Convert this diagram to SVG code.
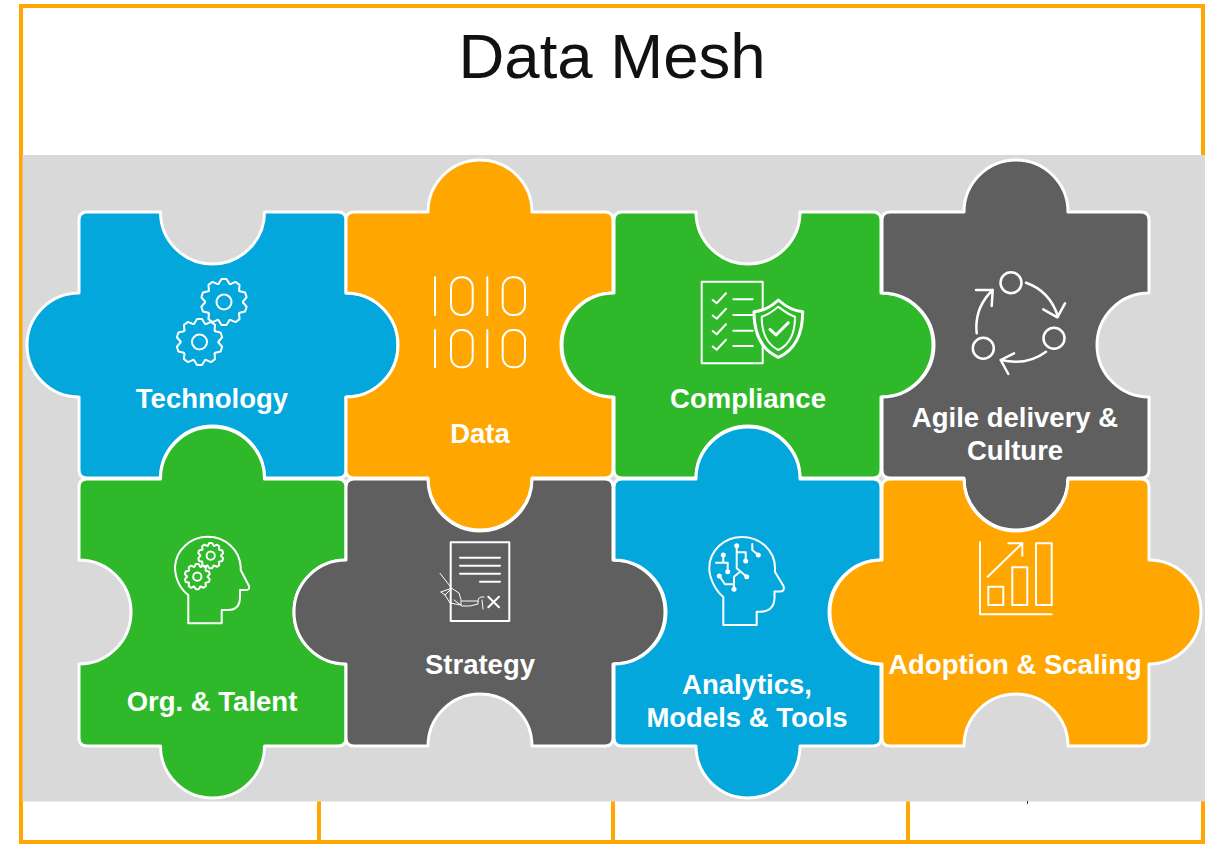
<svg xmlns="http://www.w3.org/2000/svg" xmlns:xlink="http://www.w3.org/1999/xlink" width="1212" height="844" viewBox="0 0 1212 844">
<style>
.piece{stroke:#fff;stroke-width:3;stroke-linejoin:round}
.blue{fill:#03a7dc}.orange{fill:#ffa600}.green{fill:#2fb92a}.grey{fill:#5f5f5f}
.ic{fill:none;stroke:#fff;stroke-width:2;stroke-linejoin:round;stroke-linecap:round}
.thin{stroke-width:1}
.cyc{stroke-width:2.500}
.lab{font-family:"Liberation Sans",Arial,sans-serif;font-weight:700;font-size:27.500px;fill:#fff;text-anchor:middle}
.frame{fill:none;stroke:#ffa600;stroke-width:4}
</style>
<defs>
<g id="tooth"><path d="M-5.4,-18.2 L-2.5,-23 H2.5 L5.4,-18.2 L6.34,-17.9"/></g>
<g id="gear">
<use href="#tooth"/><use href="#tooth" transform="rotate(36)"/><use href="#tooth" transform="rotate(72)"/><use href="#tooth" transform="rotate(108)"/><use href="#tooth" transform="rotate(144)"/><use href="#tooth" transform="rotate(180)"/><use href="#tooth" transform="rotate(216)"/><use href="#tooth" transform="rotate(252)"/><use href="#tooth" transform="rotate(288)"/><use href="#tooth" transform="rotate(324)"/>
<circle r="7.5"/>
</g>
</defs>
<rect width="1212" height="844" fill="#fff"/>
<g id="frame">
<rect class="frame" x="21" y="6" width="1182" height="836"/>
<path class="frame" d="M319,800V842M613,800V842M908,800V842"/>
</g>
<rect id="panel" x="22.500" y="155" width="1182.500" height="646.500" fill="#d9d9d9"/>
<rect x="1027" y="801" width="1" height="3" fill="#333"/>
<text x="612" y="78" text-anchor="middle" font-family="&quot;Liberation Sans&quot;,Arial,sans-serif" font-size="63.500" fill="#111">Data Mesh</text>

<g id="technology">
<path class="piece blue" d="M87,212H160.500A52,52 0 0 0 264.500,212H338Q346,212 346,220V293A52,52 0 0 1 346,397V470Q346,478 338,478H264.500A52,52 0 0 0 160.500,478H87Q79,478 79,470V397A52,52 0 0 1 79,293V220Q79,212 87,212Z"/>
<use class="ic" href="#gear" transform="translate(224,302)"/>
<use class="ic" href="#gear" transform="translate(199.500,342)"/>
<text class="lab" x="212" y="408">Technology</text>
</g>
<g id="data">
<path class="piece orange" d="M354,212H428A52,52 0 0 1 532,212H605Q613,212 613,220V293A52,52 0 0 0 613,397V470Q613,478 605,478H532A52,52 0 0 1 428,478H354Q346,478 346,470V397A52,52 0 0 0 346,293V220Q346,212 354,212Z"/>
<path class="ic" d="M435,277.300V315M487.300,277.300V315M435,330V367.300M487.300,330V367.300"/>
<rect class="ic" x="451" y="277.300" width="21.700" height="37.700" rx="10"/>
<rect class="ic" x="502.700" y="277.300" width="22.300" height="37.700" rx="10"/>
<rect class="ic" x="451" y="330" width="21.700" height="37.300" rx="10"/>
<rect class="ic" x="502.700" y="330" width="22.300" height="37.300" rx="10"/>
<text class="lab" x="480" y="443">Data</text>
</g>
<g id="compliance">
<path class="piece green" d="M622,212H696A52,52 0 0 0 800,212H873Q881,212 881,220V293A52,52 0 0 1 881,397V470Q881,478 873,478H800A52,52 0 0 0 696,478H622Q614,478 614,470V397A52,52 0 0 1 614,293V220Q614,212 622,212Z"/>
<rect class="ic" x="701.700" y="281.700" width="61" height="81.600"/>
<path class="ic" d="M712.700,300L716.700,303.300L726,293.300M712.700,315.500L716.700,318.800L726,308.800M712.700,331L716.700,334.300L726,324.300M712.700,346.500L716.700,349.800L726,339.800M733.300,299.300H752.700M733.300,315H752.700M733.300,330.700H752.700M733.300,346H752.700"/>
<path class="ic" style="fill:#2fb92a;stroke-width:3" d="M778.300,300C771,307 763,311 754,311.700C754,332 760,349 778.300,357.300C797,349 802.700,332 802.700,311.700C794,311 786,307 778.300,300Z"/>
<path class="ic" d="M778.300,306.700C773,311 768,315 761.700,316.700C761.700,331 766,344 778.300,350C791,344 795,331 795,316.700C789,315 784,311 778.300,306.700Z"/>
<path class="ic" style="stroke-width:3" d="M770,329.300L776,335L788.300,322.700"/>
<text class="lab" x="748" y="408">Compliance</text>
</g>
<g id="agile">
<path class="piece grey" d="M890,212H964A52,52 0 0 1 1068,212H1141Q1149,212 1149,220V293A52,52 0 0 0 1149,397V470Q1149,478 1141,478H1068A52,52 0 0 1 964,478H890Q882,478 882,470V397A52,52 0 0 0 882,293V220Q882,212 890,212Z"/>
<circle class="ic cyc" cx="1011" cy="282.700" r="10.500"/>
<circle class="ic cyc" cx="1054" cy="338.300" r="10.500"/>
<circle class="ic cyc" cx="983.300" cy="348.300" r="10.500"/>
<path class="ic cyc" d="M1026,282.700Q1050,291 1058,316.700M1043.300,309.300L1057.300,317.300L1065,303.300M1046,351.700Q1027,366 1000.700,360M1014,353.300L1000.700,360L1008.300,374M976.700,333.300Q974,308 992.700,290M976,290H992.700L991.700,306"/>
<text class="lab" x="1015" y="427">Agile delivery &amp;</text>
<text class="lab" x="1015" y="460">Culture</text>
</g>
<g id="org">
<path class="piece green" d="M87,479H160.500A52,52 0 0 1 264.500,479H338Q346,479 346,487V560A52,52 0 0 0 346,664V738Q346,746 338,746H264.500A52,52 0 0 1 160.500,746H87Q79,746 79,738V664A52,52 0 0 0 79,560V487Q79,479 87,479Z"/>
<path class="ic" d="M188.300,623.300V595C180,589 175,578 175,567A32.900,32 0 0 1 240.700,567V570L249,586Q250,590 246,590H240V597Q240,610 228,610H221.700V623.300Z"/>
<use class="ic" style="stroke-width:3.600" href="#gear" transform="translate(210.700,555.700) scale(.55)"/>
<use class="ic" style="stroke-width:3.600" href="#gear" transform="translate(197.300,576.700) scale(.55)"/>
<text class="lab" x="212" y="711">Org. &amp; Talent</text>
</g>
<g id="strategy">
<path class="piece grey" d="M354,479H428A52,52 0 0 0 532,479H605Q613,479 613,487V560A52,52 0 0 1 613,664V738Q613,746 605,746H532A52,52 0 0 0 428,746H354Q346,746 346,738V664A52,52 0 0 1 346,560V487Q346,479 354,479Z"/>
<rect class="ic" x="450.700" y="542.300" width="58.600" height="78.700"/>
<path class="ic" d="M460,557.700H500M460,565.700H500M460,573.700H500M480,581.700H500M488.300,596.700L499,607.300M499,596.700L488.300,607.300"/>
<path class="ic thin" d="M440,573.300L451.700,588.300L440.700,592L445,595L451.700,588.300L459,593Q462,600 461,605L450,603L445,595M454,600L462,606H470L478,604V601H462M478,601Q478,596 484,597M482,600L483,609"/>
<text class="lab" x="480" y="674">Strategy</text>
</g>
<g id="analytics">
<path class="piece blue" d="M622,479H696A52,52 0 0 1 800,479H873Q881,479 881,487V560A52,52 0 0 0 881,664V738Q881,746 873,746H800A52,52 0 0 1 696,746H622Q614,746 614,738V664A52,52 0 0 0 614,560V487Q614,479 622,479Z"/>
<path class="ic" d="M723.300,625V597C715,590 709.300,578 709.300,568A32.800,31 0 0 1 775,568V572L783.500,586Q785,591.500 780,591.500H774.500V598Q774,611.700 760,611.700H756.700V625Z"/>
<path class="ic" d="M723.300,555V562.700M716,562.700H727.700V571.700M736.700,545.700V568.300L746.700,576.700M736.700,552.300H745.700V561M740,571.700L734,576.700V589.300M719.300,576L725,584.300H734M752.300,544V550L758.300,555"/>
<g fill="#fff"><circle cx="723.300" cy="555" r="2.500"/><circle cx="736.700" cy="545.700" r="2.500"/><circle cx="745.700" cy="561" r="2.500"/><circle cx="758.300" cy="555" r="2.500"/><circle cx="727.700" cy="571.700" r="2.500"/><circle cx="719.300" cy="576" r="2.500"/><circle cx="746.700" cy="576.700" r="2.500"/><circle cx="734" cy="589.300" r="2.500"/></g>
<text class="lab" x="747" y="694">Analytics,</text>
<text class="lab" x="747" y="727">Models &amp; Tools</text>
</g>
<g id="adoption">
<path class="piece orange" d="M890,479H964A52,52 0 0 0 1068,479H1141Q1149,479 1149,487V560A52,52 0 0 1 1149,664V738Q1149,746 1141,746H1068A52,52 0 0 0 964,746H890Q882,746 882,738V664A52,52 0 0 1 882,560V487Q882,479 890,479Z"/>
<path class="ic" d="M980,542.300V614.300H1051.700M987.700,576.700L1022.300,543.300M1008.300,543.300H1022.300V555.700"/>
<rect class="ic" x="988.300" y="586.700" width="15" height="18.300"/>
<rect class="ic" x="1012.300" y="567.300" width="15" height="37.700"/>
<rect class="ic" x="1036" y="543.300" width="15.700" height="61.700"/>
<text class="lab" x="1015" y="674">Adoption &amp; Scaling</text>
</g>
</svg>
